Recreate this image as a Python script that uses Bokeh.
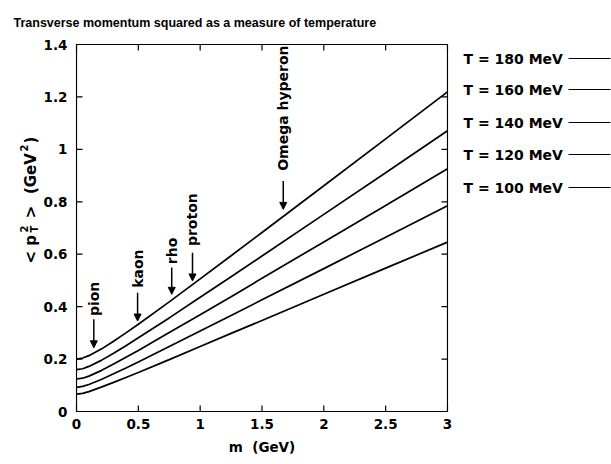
import math
from bokeh.plotting import figure
from bokeh.layouts import row, column
from bokeh.models import (Range1d, FixedTicker, Arrow, NormalHead, ColumnDataSource)
from bokeh.core.properties import value
from bokeh.embed import file_html
from bokeh.resources import INLINE

TITLE = "Transverse momentum squared as a measure of temperature"

# particle mass m (GeV)
mass = [0.0, 0.05, 0.1, 0.2, 0.3, 0.4, 0.5, 0.75, 1.0, 1.25, 1.5, 2.0, 2.5, 3.0]
# <pT^2> (GeV^2)
pt2_T180 = [0.200, 0.204, 0.213, 0.238, 0.268, 0.300, 0.333, 0.418, 0.506, 0.594, 0.683, 0.861, 1.040, 1.219]
pt2_T160 = [0.160, 0.163, 0.172, 0.195, 0.222, 0.251, 0.281, 0.357, 0.436, 0.514, 0.593, 0.752, 0.911, 1.071]
pt2_T140 = [0.124, 0.127, 0.135, 0.156, 0.181, 0.207, 0.233, 0.301, 0.369, 0.438, 0.508, 0.647, 0.786, 0.926]
pt2_T120 = [0.092, 0.096, 0.103, 0.122, 0.144, 0.166, 0.189, 0.248, 0.307, 0.366, 0.426, 0.545, 0.665, 0.785]
pt2_T100 = [0.066, 0.069, 0.076, 0.093, 0.111, 0.130, 0.149, 0.198, 0.248, 0.298, 0.347, 0.447, 0.547, 0.646]

series_labels = ["T = 180 MeV", "T = 160 MeV", "T = 140 MeV", "T = 120 MeV", "T = 100 MeV"]
series = [pt2_T180, pt2_T160, pt2_T140, pt2_T120, pt2_T100]

x_ticks = [0, 0.5, 1, 1.5, 2, 2.5, 3]
x_tick_labels = ["0", "0.5", "1", "1.5", "2", "2.5", "3"]
y_ticks = [0, 0.2, 0.4, 0.6, 0.8, 1.0, 1.2, 1.4]
y_tick_labels = ["0", "0.2", "0.4", "0.6", "0.8", "1", "1.2", "1.4"]

particles = ["pion", "kaon", "rho", "proton", "Omega hyperon"]
particle_mass = [0.14, 0.494, 0.77, 0.938, 1.672]
arrow_tail = [0.352, 0.453, 0.549, 0.606, 0.879]
arrow_tip = [0.243, 0.345, 0.447, 0.498, 0.771]
label_base = [0.364, 0.472, 0.562, 0.631, 0.918]

FONT = "DejaVu Sans"
TOP_H = 30      # height of the title strip
LEFT_W = 40     # width of the y-label strip
MAIN_W = 420    # main figure width
RIGHT_W = 611 - LEFT_W - MAIN_W
BODY_H = 464 - TOP_H
# page pixels of the data box (0..3, 0..1.4); frame is 1 px larger on each side
BOX_L, BOX_R, BOX_T, BOX_B = 76, 447, 44, 411
PAD = 1
FR_L, FR_R, FR_T, FR_B = BOX_L - PAD, BOX_R + PAD, BOX_T - PAD, BOX_B + PAD
X0, X1 = x_ticks[0], x_ticks[-1]
Y0, Y1 = y_ticks[0], y_ticks[-1]
SX = (BOX_R - BOX_L) / (X1 - X0)   # px per x unit
SY = (BOX_B - BOX_T) / (Y1 - Y0)   # px per y unit
TICK = 6    # tick length, px
LW = 1.2
NAN = float("nan")


def blank(width, height, x0, x1, y0, y1):
    f = figure(width=width, height=height, x_range=Range1d(x0, x1), y_range=Range1d(y0, y1),
               output_backend="svg", toolbar_location=None, x_axis_type=None, y_axis_type=None,
               min_border=0, min_border_left=0, min_border_right=0, min_border_top=0,
               min_border_bottom=0, background_fill_color="white", border_fill_color="white")
    f.outline_line_color = None
    f.grid.visible = False
    return f


# ---- title strip (pixel coordinates, y downward) ----
ptitle = blank(611, TOP_H, 0, 611, TOP_H, 0)
ptitle.text(x=[13], y=[22], text=[TITLE], text_font=value("Liberation Sans"),
            text_font_style="bold", text_font_size="12.5px", text_color="black",
            text_align="left", text_baseline="alphabetic")

# ---- main plot ----
p = figure(width=MAIN_W, height=BODY_H,
           x_range=Range1d(X0 - PAD / SX, X1 + PAD / SX),
           y_range=Range1d(Y0 - PAD / SY, Y1 + PAD / SY),
           output_backend="svg", toolbar_location=None,
           min_border_left=FR_L - LEFT_W, min_border_right=MAIN_W - (FR_R - LEFT_W),
           min_border_top=FR_T - TOP_H, min_border_bottom=BODY_H - (FR_B - TOP_H),
           background_fill_color="white", border_fill_color="white")
p.grid.visible = False
p.outline_line_color = None


def style_axis(ax, ticks, labels):
    ax.ticker = FixedTicker(ticks=ticks)
    ax.major_label_overrides = {t: l for t, l in zip(ticks, labels)}
    ax.major_tick_in = 0
    ax.major_tick_out = 0
    ax.minor_tick_line_color = None
    ax.axis_line_color = None
    ax.major_tick_line_color = None
    ax.major_label_text_font = FONT
    ax.major_label_text_font_style = "bold"
    ax.major_label_text_font_size = "13.5px"
    ax.major_label_text_color = "black"


style_axis(p.xaxis[0], x_ticks, x_tick_labels)
style_axis(p.yaxis[0], y_ticks, y_tick_labels)
p.xaxis.major_label_standoff = 6
p.yaxis.major_label_standoff = 8
p.xaxis.axis_label = "m\u00a0\u00a0(GeV)"
p.xaxis.axis_label_text_font = FONT
p.xaxis.axis_label_text_font_style = "bold"
p.xaxis.axis_label_text_font_size = "13.5px"
p.xaxis.axis_label_text_color = "black"
p.xaxis.axis_label_standoff = 7

for vals in series:
    p.line(mass, vals, line_color="black", line_width=1.7)

# plot box (closed line along the axis extents)
p.line([X0, X1, X1, X0, X0], [Y0, Y0, Y1, Y1, Y0], line_color="black", line_width=LW)

# inward ticks on all four sides, as one broken line (NaN separates the ticks)
tx, ty = [], []
for t in x_ticks:
    tx += [t, t, NAN, t, t, NAN]
    ty += [Y0, Y0 + TICK / SY, NAN, Y1, Y1 - TICK / SY, NAN]
for t in y_ticks:
    tx += [X0, X0 + TICK / SX, NAN, X1, X1 - TICK / SX, NAN]
    ty += [t, t, NAN, t, t, NAN]
p.line(tx, ty, line_color="black", line_width=LW)

src = ColumnDataSource(dict(m=particle_mass, tail=arrow_tail, tip=arrow_tip,
                            base=label_base, name=particles))
p.add_layout(Arrow(x_start="m", y_start="tail", x_end="m", y_end="tip", source=src,
                   line_color="black", line_width=1.5,
                   end=NormalHead(size=7, fill_color="black", line_color="black")))
p.text(x="m", y="base", text="name", source=src, angle=math.pi / 2,
       text_align="left", text_baseline="middle", text_font=value(FONT),
       text_font_style="bold", text_font_size="14px", text_color="black")

# ---- y-label strip (frame aligned with main frame; page pixels, y downward) ----
pylab = blank(LEFT_W, BODY_H, 0, LEFT_W, FR_B, FR_T)
ylab_text = ["<\u00a0p", "T", "2", "\u00a0>", "\u00a0\u00a0(GeV", "2", ")"]
ylab_x = [30, 34, 23, 30, 30, 23, 30]
ylab_y = [263, 232, 232, 223, 204, 151, 143]
ylab_size = ["15px", "10px", "10px", "15px", "15px", "10px", "15px"]
ysrc = ColumnDataSource(dict(x=ylab_x, y=ylab_y, t=ylab_text, s=ylab_size))
pylab.text(x="x", y="y", text="t", source=ysrc, angle=math.pi / 2,
           text_font=value(FONT), text_font_style="bold", text_font_size="s",
           text_align="left", text_baseline="alphabetic", text_color="black")

# ---- legend strip (frame aligned with main frame; page pixels, y downward) ----
x_left = LEFT_W + MAIN_W
pleg = blank(RIGHT_W, BODY_H, x_left, 611, FR_B, FR_T)
legend_rows = [58, 89, 122, 154, 187]
lsrc = ColumnDataSource(dict(y=legend_rows, t=series_labels,
                             x=[463] * 5, x0=[568] * 5, x1=[610] * 5))
pleg.text(x="x", y="y", text="t", source=lsrc, text_font=value(FONT),
          text_font_style="bold", text_font_size="14px", text_color="black",
          text_align="left", text_baseline="middle")
pleg.segment(x0="x0", y0="y", x1="x1", y1="y", source=lsrc, line_color="black", line_width=1.2)

layout = column(ptitle, row(pylab, p, pleg, spacing=0), spacing=0)
open("out.html", "w").write(file_html(layout, INLINE))
